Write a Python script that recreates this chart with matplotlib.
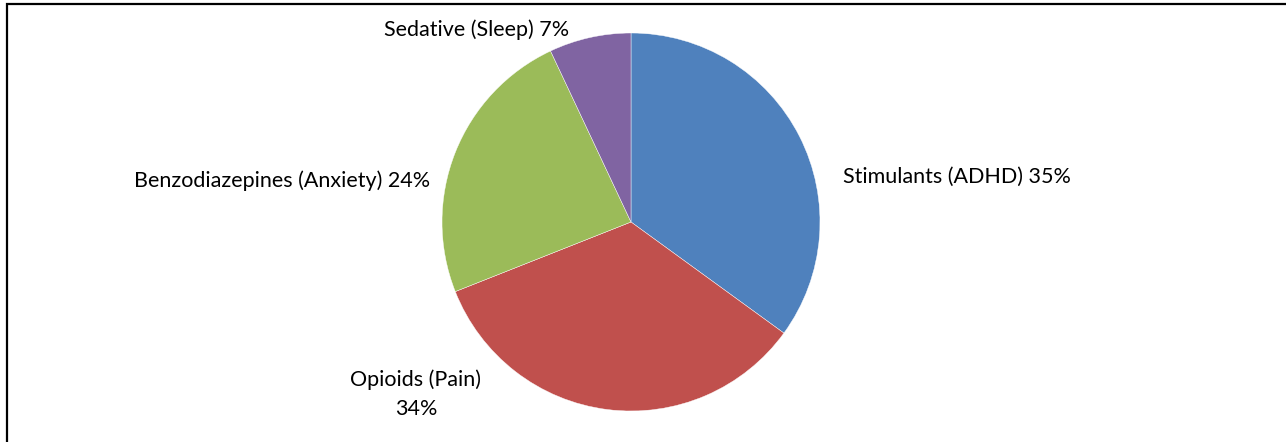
import matplotlib
matplotlib.use("Agg")
import matplotlib.pyplot as plt
from matplotlib.patches import Rectangle

categories = ["Stimulants (ADHD)", "Opioids (Pain)", "Benzodiazepines (Anxiety)", "Sedative (Sleep)"]
values = [35, 34, 24, 7]
colors = ["#4F81BD", "#C0504D", "#9BBB59", "#8064A2"]

W, H = 1286, 442
fig = plt.figure(figsize=(W / 100, H / 100), dpi=100)
ax = fig.add_axes([0, 0, 1, 1])
ax.set_xlim(0, W)
ax.set_ylim(0, H)
ax.set_aspect("equal")
ax.axis("off")

ax.pie(values, colors=colors, startangle=90, counterclock=False,
       center=(631, H - 222), radius=189,
       wedgeprops=dict(edgecolor="white", linewidth=0.3))
ax.set_xlim(0, W)
ax.set_ylim(0, H)

font = dict(family=["Lato", "DejaVu Sans"], fontsize=15.5, color="#000000")
ax.text(843, H - 183, f"{categories[0]} {values[0]}%", ha="left", va="baseline", **font)
ax.text(416, H - 386, f"{categories[1]}", ha="center", va="baseline", **font)
ax.text(416, H - 415, f"{values[1]}%", ha="center", va="baseline", **font)
ax.text(430, H - 187, f"{categories[2]} {values[2]}%", ha="right", va="baseline", **font)
ax.text(477, H - 36, f"{categories[3]} {values[3]}%", ha="center", va="baseline", **font)

fig.patches.append(Rectangle((7 / W, -0.05), 1.2, (H - 4) / H + 0.05,
                             transform=fig.transFigure, fill=False,
                             edgecolor="black", linewidth=1.6))

fig.savefig("out.png", dpi=100)
